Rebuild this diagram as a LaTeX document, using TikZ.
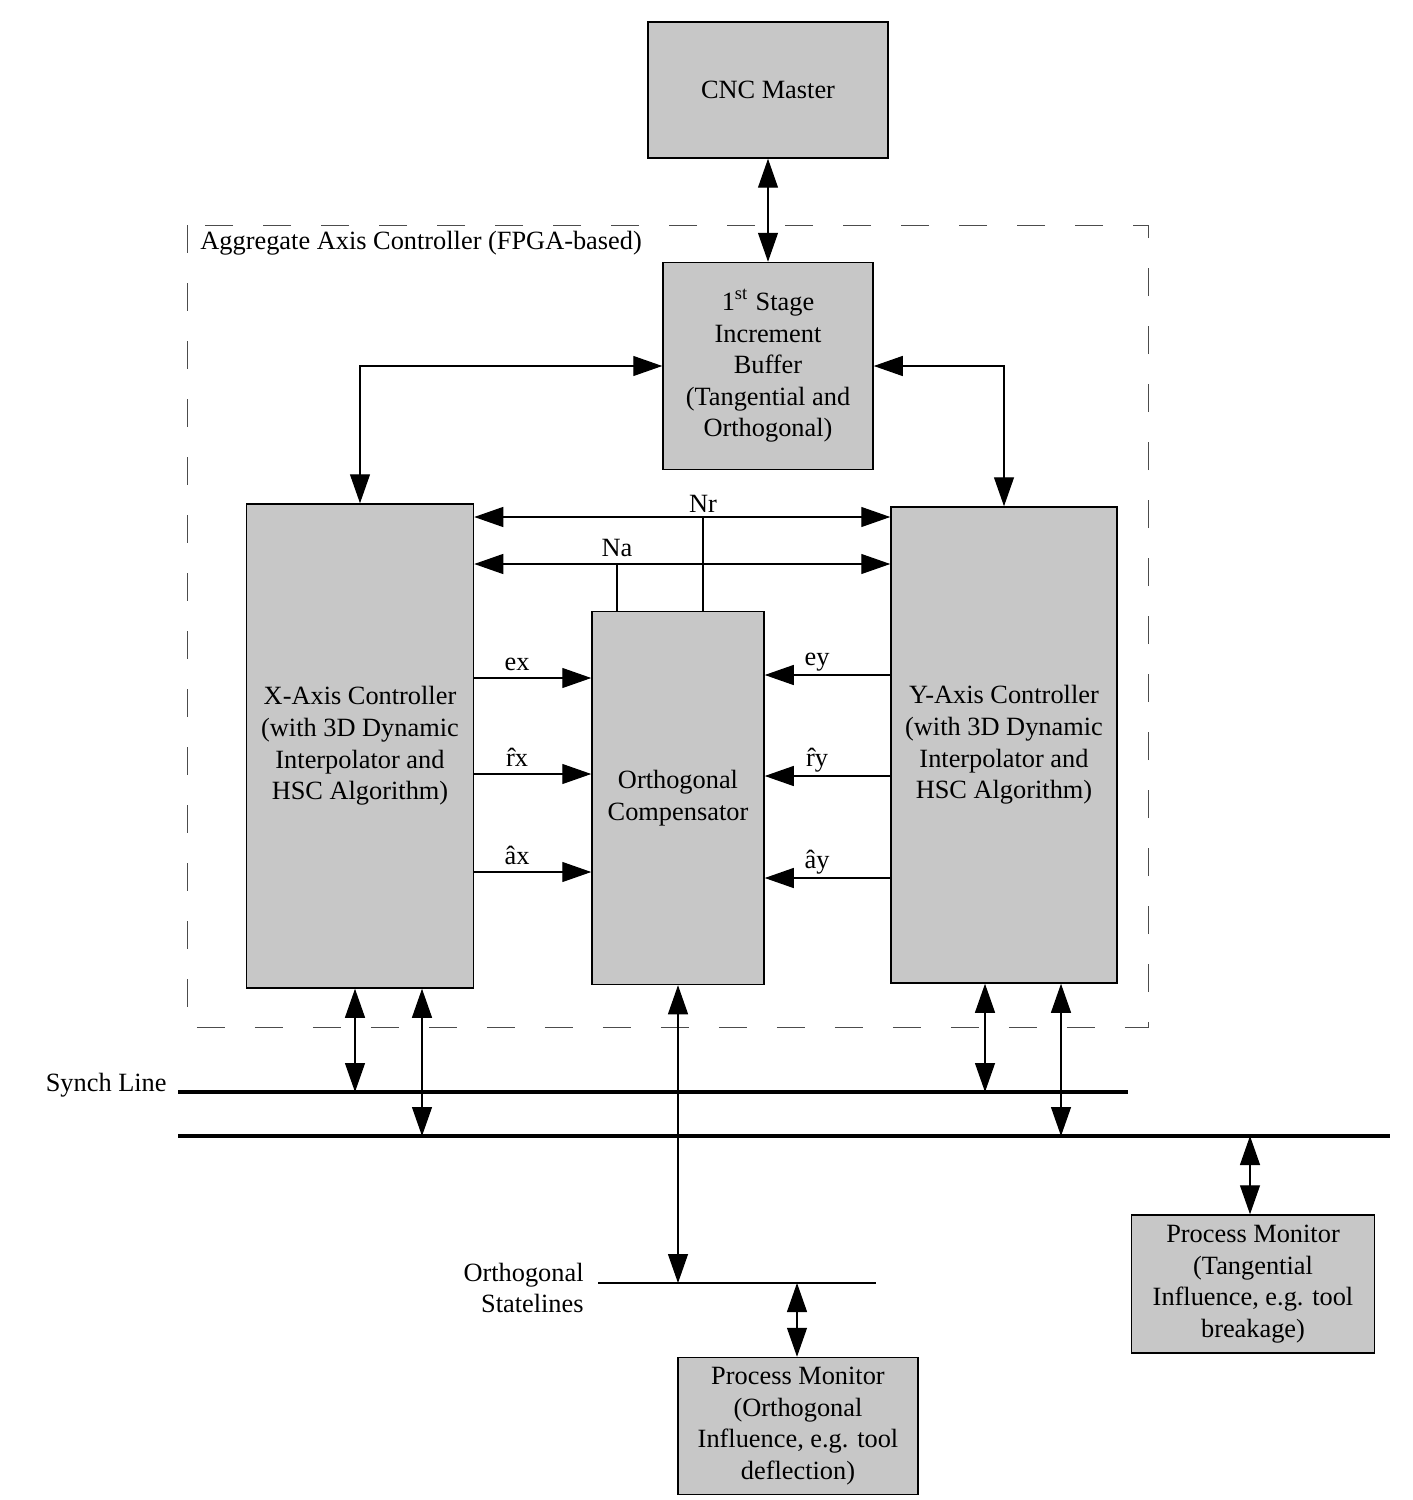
\documentclass[tikz,border=0pt]{standalone}
\usepackage{fontspec}
\setmainfont{Liberation Serif}
\usetikzlibrary{arrows.meta}

\begin{document}
\begin{tikzpicture}[x=0.1mm,y=-0.1mm]
      \tikzstyle{every node}=[font=\fontsize{7.5}{9}\selectfont]
      \tikzstyle{block}=[rectangle,draw,fill=black!22,align=center,inner sep=1pt,line width=0.15mm]
      \tikzstyle{link}=[line width=0.12mm,{Triangle[length=2.9mm,width=2mm]}-{Triangle[length=2.9mm,width=2mm]}]
      \tikzstyle{feed}=[line width=0.12mm,-{Triangle[length=2.9mm,width=2mm]}]
      \tikzstyle{bus}=[line width=0.45mm]
      \useasboundingbox (0,0) rectangle (1412,1500);
      \draw[dash pattern=on 2.8mm off 3mm,line width=0.1mm,black!70] (187,225) rectangle (1148,1027);
      \node[anchor=west] (agg) at (188,243) {Aggregate Axis Controller (FPGA-based)};
      \node[block,minimum width=24mm,minimum height=13.6mm] (cnc) at (768,90) {CNC Master};
      \node[block,minimum width=21mm,minimum height=20.7mm] (buf) at (768,366)
        {1\textsuperscript{st} Stage\\Increment\\Buffer\\(Tangential and\\Orthogonal)};
      \node[block,minimum width=22.7mm,minimum height=48.4mm] (xax) at (360,746)
        {X-Axis Controller\\(with 3D Dynamic\\Interpolator and\\HSC Algorithm)};
      \node[block,minimum width=17.2mm,minimum height=37.3mm] (comp) at (678,798)
        {Orthogonal\\Compensator};
      \node[block,minimum width=22.6mm,minimum height=47.6mm] (yax) at (1004,745)
        {Y-Axis Controller\\(with 3D Dynamic\\Interpolator and\\HSC Algorithm)};
      \node[block,minimum width=24.3mm,minimum height=13.8mm] (pmt) at (1253,1284)
        {Process Monitor\\(Tangential\\Influence, e.g. tool\\breakage)};
      \node[block,minimum width=24mm,minimum height=13.7mm] (pmo) at (798,1426)
        {Process Monitor\\(Orthogonal\\Influence, e.g. tool\\deflection)};
      % top links
      \draw[link] (cnc) -- (buf);
      \draw[link] (buf.west) -| (xax.north);
      \draw[link] (buf.east) -| (yax.north);
      % Nr and Na
      \coordinate (nr) at (703,517);
      \coordinate (na) at (617,564);
      \draw[link] (nr -| xax.east) -- (nr -| yax.west);
      \draw[link] (na -| xax.east) -- (na -| yax.west);
      \draw[line width=0.12mm] (nr) -- (nr |- comp.north);
      \draw[line width=0.12mm] (na) -- (na |- comp.north);
      \node[above,inner sep=1pt] at (nr) {Nr};
      \node[above,inner sep=2pt] at (na) {Na};
      % signals into the compensator
      \foreach \n/\y/\t in {ex/678/ex,rx/774/\^{r}x,ax/872/\^{a}x} {
        \coordinate (\n) at (517,\y);
        \draw[feed] (\n -| xax.east) -- (\n -| comp.west);
        \node[above,inner sep=2pt] at (\n) {\t};
      }
      \foreach \n/\y/\t in {ey/675/ey,ry/776/\^{r}y,ay/878/\^{a}y} {
        \coordinate (\n) at (817,\y);
        \draw[feed] (\n -| yax.west) -- (\n -| comp.east);
        \node[above,inner sep=1pt] at (\n) {\t};
      }
      % lines at the bottom
      \coordinate (sy1) at (178,1092);
      \coordinate (sy2) at (1128,1092);
      \coordinate (bus1) at (178,1136);
      \coordinate (bus2) at (1390,1136);
      \coordinate (st1) at (598,1283);
      \coordinate (st2) at (876,1283);
      \draw[bus] (sy1) -- (sy2);
      \draw[bus] (bus1) -- (bus2);
      \draw[line width=0.12mm] (st1) -- (st2);
      \node[anchor=east] at (179,1085) {Synch Line};
      \node[anchor=east,align=right] at (596,1288) {Orthogonal\\Statelines};
      \draw[link] ([xshift=-0.5mm]xax.south) -- ([xshift=-0.5mm]xax.south |- sy1);
      \draw[link] ([xshift=6.2mm]xax.south) -- ([xshift=6.2mm]xax.south |- bus1);
      \draw[link] ([xshift=-1.9mm]yax.south) -- ([xshift=-1.9mm]yax.south |- sy1);
      \draw[link] ([xshift=5.7mm]yax.south) -- ([xshift=5.7mm]yax.south |- bus1);
      \draw[link] (comp.south) -- (comp.south |- st1);
      \draw[link] ([xshift=-0.3mm]pmt.north |- bus1) -- ([xshift=-0.3mm]pmt.north);
      \draw[link] ([xshift=-0.1mm]pmo.north |- st1) -- ([xshift=-0.1mm]pmo.north);
\end{tikzpicture}
\end{document}
